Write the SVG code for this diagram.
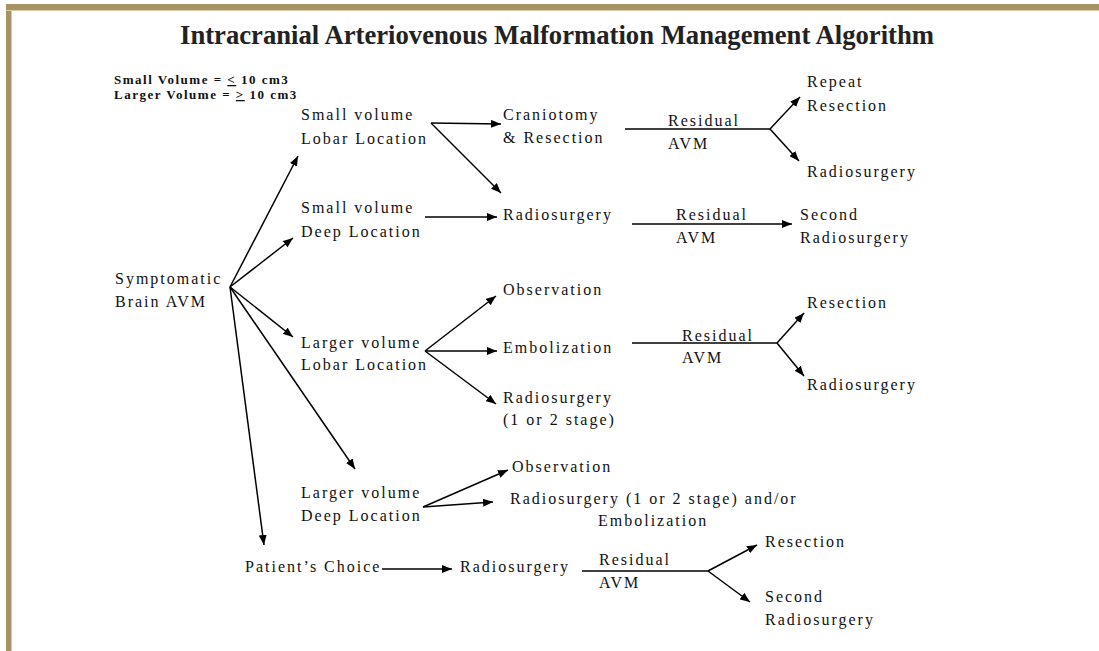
<svg xmlns="http://www.w3.org/2000/svg" width="1099" height="651" viewBox="0 0 1099 651">
<defs>
<style>
.t{font-family:"Liberation Serif","Times New Roman",serif;font-size:16px;letter-spacing:2px;fill:#111}
.title{font-family:"Liberation Serif","Times New Roman",serif;font-size:27px;font-weight:bold;fill:#222}
.leg{font-family:"Liberation Serif","Times New Roman",serif;font-size:13px;font-weight:bold;letter-spacing:1.5px;fill:#111}
.c line,.c polyline{stroke:#000;stroke-width:1.5;fill:none}
.a{marker-end:url(#ah)}
</style>
<marker id="ah" viewBox="0 0 10 8" refX="10" refY="4" markerWidth="10" markerHeight="8" markerUnits="userSpaceOnUse" orient="auto">
<path d="M0,0 L10,4 L0,8 Z" fill="#000"/>
</marker>
</defs>
<rect x="0" y="0" width="1099" height="651" fill="#fff"/>
<g id="frame">
<rect x="6" y="4" width="1093" height="6" fill="#a79361"/>
<rect x="6" y="4" width="5" height="647" fill="#a79361"/>
<line x1="6" y1="10.5" x2="1099" y2="10.5" stroke="#d8ccad" stroke-width="1"/>
<line x1="11.5" y1="10" x2="11.5" y2="651" stroke="#d8ccad" stroke-width="1"/>
</g>
<g id="title"><text class="title" x="557" y="44" text-anchor="middle" textLength="754" lengthAdjust="spacingAndGlyphs">Intracranial Arteriovenous Malformation Management Algorithm</text></g>
<g id="legend">
<text class="leg" x="114" y="84">Small Volume = <tspan text-decoration="underline">&lt;</tspan> 10 cm3</text>
<text class="leg" x="114" y="99">Larger Volume = <tspan text-decoration="underline">&gt;</tspan> 10 cm3</text>
</g>
<g id="connectors" class="c">
<line class="a" x1="230" y1="287" x2="298" y2="156"/>
<line class="a" x1="230" y1="287" x2="293" y2="238"/>
<line class="a" x1="230" y1="287" x2="293" y2="337"/>
<line class="a" x1="230" y1="287" x2="355" y2="469"/>
<line class="a" x1="230" y1="287" x2="264" y2="545"/>
<line class="a" x1="431" y1="123" x2="501" y2="124"/>
<line class="a" x1="431" y1="123" x2="501" y2="193"/>
<line class="a" x1="425" y1="217" x2="497" y2="217"/>
<line class="a" x1="425" y1="351" x2="496" y2="296"/>
<line class="a" x1="425" y1="351" x2="497" y2="351"/>
<line class="a" x1="425" y1="351" x2="496" y2="404"/>
<line class="a" x1="423" y1="507" x2="508" y2="470"/>
<line class="a" x1="423" y1="507" x2="493" y2="502"/>
<line class="a" x1="382" y1="569" x2="452" y2="569"/>
<line x1="625" y1="129" x2="770" y2="129"/>
<line class="a" x1="770" y1="129" x2="800" y2="97"/>
<line class="a" x1="770" y1="129" x2="799" y2="161"/>
<line class="a" x1="632" y1="224" x2="792" y2="224"/>
<line x1="632" y1="343" x2="777" y2="343"/>
<line class="a" x1="777" y1="343" x2="804" y2="313"/>
<line class="a" x1="777" y1="343" x2="804" y2="376"/>
<line x1="582" y1="571" x2="708" y2="571"/>
<line class="a" x1="708" y1="571" x2="757" y2="545"/>
<line class="a" x1="708" y1="571" x2="750" y2="602"/>
</g>
<g id="symptomatic"><text class="t" x="115" y="284">Symptomatic</text><text class="t" x="115" y="307">Brain AVM</text></g>
<g id="small-lobar"><text class="t" x="301" y="120">Small volume</text><text class="t" x="301" y="144">Lobar Location</text></g>
<g id="small-deep"><text class="t" x="301" y="213">Small volume</text><text class="t" x="301" y="237">Deep Location</text></g>
<g id="larger-lobar"><text class="t" x="301" y="348">Larger volume</text><text class="t" x="301" y="370">Lobar Location</text></g>
<g id="larger-deep"><text class="t" x="301" y="498">Larger volume</text><text class="t" x="301" y="521">Deep Location</text></g>
<g id="patients-choice"><text class="t" x="245" y="572">Patient’s Choice</text></g>
<g id="craniotomy"><text class="t" x="503" y="120">Craniotomy</text><text class="t" x="503" y="143">&amp; Resection</text></g>
<g id="residual-1"><text class="t" x="668" y="126">Residual</text><text class="t" x="668" y="149">AVM</text></g>
<g id="repeat-resection"><text class="t" x="807" y="87">Repeat</text><text class="t" x="807" y="111">Resection</text></g>
<g id="radiosurgery-1b"><text class="t" x="807" y="177">Radiosurgery</text></g>
<g id="radiosurgery-2"><text class="t" x="503" y="220">Radiosurgery</text></g>
<g id="residual-2"><text class="t" x="676" y="220">Residual</text><text class="t" x="676" y="243">AVM</text></g>
<g id="second-radiosurgery-2"><text class="t" x="800" y="220">Second</text><text class="t" x="800" y="243">Radiosurgery</text></g>
<g id="observation-3"><text class="t" x="503" y="295">Observation</text></g>
<g id="embolization-3"><text class="t" x="503" y="353">Embolization</text></g>
<g id="radiosurgery-3"><text class="t" x="503" y="403">Radiosurgery</text><text class="t" x="503" y="425">(1 or 2 stage)</text></g>
<g id="residual-3"><text class="t" x="682" y="341">Residual</text><text class="t" x="682" y="363">AVM</text></g>
<g id="resection-3"><text class="t" x="807" y="308">Resection</text></g>
<g id="radiosurgery-3b"><text class="t" x="807" y="390">Radiosurgery</text></g>
<g id="observation-4"><text class="t" x="512" y="472">Observation</text></g>
<g id="radiosurgery-4"><text class="t" x="510" y="504">Radiosurgery (1 or 2 stage) and/or</text><text class="t" x="598" y="526">Embolization</text></g>
<g id="radiosurgery-5"><text class="t" x="460" y="572">Radiosurgery</text></g>
<g id="residual-5"><text class="t" x="599" y="565">Residual</text><text class="t" x="599" y="588">AVM</text></g>
<g id="resection-5"><text class="t" x="765" y="547">Resection</text></g>
<g id="second-radiosurgery-5"><text class="t" x="765" y="602">Second</text><text class="t" x="765" y="625">Radiosurgery</text></g>
</svg>
